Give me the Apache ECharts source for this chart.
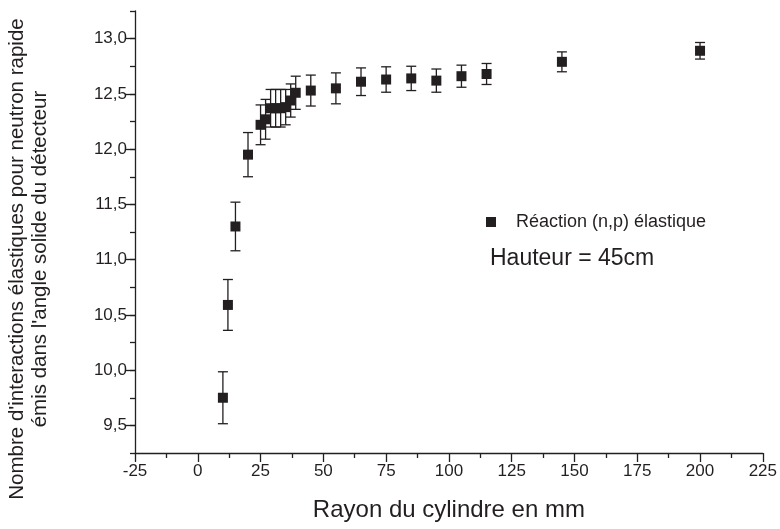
<!DOCTYPE html>
<html>
<head>
<meta charset="utf-8">
<script src="https://cdn.jsdelivr.net/npm/echarts@6/dist/echarts.min.js"></script>
<style>html,body{margin:0;padding:0;background:#fff;}#c{width:780px;height:529px;}</style>
</head>
<body>
<div id="c"></div>
<script>
const radius = [10, 12, 15, 20, 25, 27, 29, 31, 33, 35, 37, 39, 45, 55, 65, 75, 85, 95, 105, 115, 145, 200];
const counts = [9.75, 10.59, 11.30, 11.95, 12.22, 12.27, 12.37, 12.37, 12.37, 12.38, 12.44, 12.51, 12.53, 12.55, 12.61, 12.63, 12.64, 12.62, 12.66, 12.68, 12.79, 12.89];
const errors = [0.235, 0.23, 0.22, 0.2, 0.18, 0.18, 0.17, 0.17, 0.17, 0.16, 0.15, 0.15, 0.14, 0.14, 0.125, 0.115, 0.11, 0.105, 0.10, 0.095, 0.09, 0.075];
const seriesName = 'Réaction (n,p) élastique';
const note = 'Hauteur = 45cm';
const xTitle = 'Rayon du cylindre en mm';
const yTitle = "Nombre d'interactions élastiques pour neutron rapide\némis dans l'angle solide du détecteur";

const FONT = 'Liberation Sans, Arial, sans-serif';
const INK = '#231f20';

const pts = radius.map((r, i) => [r, counts[i]]);
const errData = radius.map((r, i) => [r, counts[i] - errors[i], counts[i] + errors[i]]);

const chart = echarts.init(document.getElementById('c'), null, {renderer: 'canvas'});
chart.setOption({
  animation: false,
  backgroundColor: '#fff',
  grid: [
    {left: 135, right: 13, top: 11, bottom: 76},
    {left: 135, right: 13, top: 38.625, bottom: 103.625}
  ],
  xAxis: [{
    gridIndex: 0, type: 'value', min: -25, max: 225, interval: 25,
    axisLine: {onZero: false, lineStyle: {color: INK, width: 1.3}},
    axisTick: {length: 9, lineStyle: {color: INK, width: 1.3}},
    minorTick: {show: true, splitNumber: 2, length: 5, lineStyle: {color: INK, width: 1.3}},
    splitLine: {show: false},
    axisLabel: {color: INK, fontFamily: FONT, fontSize: 17, margin: 10},
    name: xTitle, nameLocation: 'middle', nameGap: 45,
    nameTextStyle: {color: INK, fontFamily: FONT, fontSize: 24}
  }, {
    gridIndex: 1, type: 'value', min: -25, max: 225, show: false
  }],
  yAxis: [{
    gridIndex: 0, type: 'value', min: 9.25, max: 13.25, interval: 0.25,
    axisLine: {show: true, onZero: false, lineStyle: {color: INK, width: 1.3}},
    axisTick: {show: true, length: 5, lineStyle: {color: INK, width: 1.3}},
    splitLine: {show: false},
    axisLabel: {show: false}
  }, {
    gridIndex: 1, type: 'value', min: 9.5, max: 13.0, interval: 0.5,
    axisLine: {show: false, onZero: false},
    axisTick: {show: true, length: 10, lineStyle: {color: INK, width: 1.3}},
    splitLine: {show: false},
    axisLabel: {color: INK, fontFamily: FONT, fontSize: 17, margin: 8,
      formatter: v => v.toFixed(1).replace('.', ',')}
  }],
  legend: {
    left: 481, top: 208, orient: 'vertical',
    data: [{name: seriesName, icon: 'rect'}],
    itemWidth: 10, itemHeight: 10,
    formatter: n => '   ' + n,
    textStyle: {color: INK, fontFamily: FONT, fontSize: 18}
  },
  graphic: [{
    type: 'text', left: 490, top: 247,
    style: {text: note, fill: INK, font: '23px ' + FONT}
  }, {
    type: 'text', x: 29, y: 259, rotation: Math.PI / 2,
    style: {text: yTitle, fill: INK, font: '20.5px ' + FONT, align: 'center', verticalAlign: 'middle', lineHeight: 23}
  }],
  series: [{
    type: 'custom', name: 'err', xAxisIndex: 0, yAxisIndex: 0,
    data: errData,
    encode: {x: 0, y: [1, 2]},
    renderItem: (params, api) => {
      const x = api.value(0);
      const lo = api.coord([x, api.value(1)]);
      const hi = api.coord([x, api.value(2)]);
      const hw = 5;
      const st = {stroke: INK, lineWidth: 1.3};
      return {type: 'group', children: [
        {type: 'line', shape: {x1: lo[0], y1: lo[1], x2: hi[0], y2: hi[1]}, style: st},
        {type: 'line', shape: {x1: lo[0] - hw, y1: lo[1], x2: lo[0] + hw, y2: lo[1]}, style: st},
        {type: 'line', shape: {x1: hi[0] - hw, y1: hi[1], x2: hi[0] + hw, y2: hi[1]}, style: st}
      ]};
    },
    z: 1
  }, {
    type: 'scatter', name: seriesName, xAxisIndex: 0, yAxisIndex: 0,
    data: pts, symbol: 'rect', symbolSize: 10,
    itemStyle: {color: INK, opacity: 1}, z: 2
  }]
});
</script>
</body>
</html>
